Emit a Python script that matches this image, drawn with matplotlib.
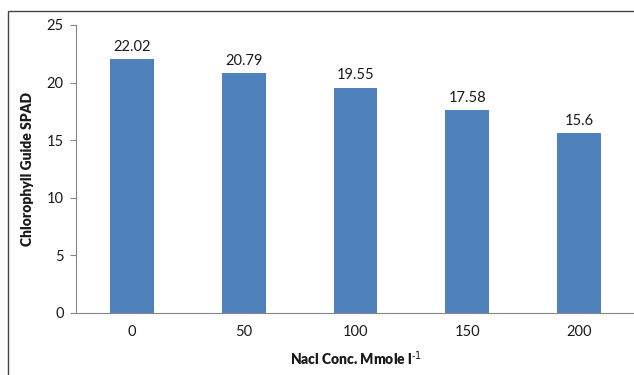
import numpy as np
import matplotlib.pyplot as plt
from matplotlib.patches import Rectangle

plt.rcParams['font.family'] = ['Lato', 'DejaVu Sans']

concentrations = ["0", "50", "100", "150", "200"]
spad_values = [22.02, 20.79, 19.55, 17.58, 15.6]
value_labels = ["22.02", "20.79", "19.55", "17.58", "15.6"]

BAR_COLOR = "#4F81BD"
AXIS_COLOR = "#868686"
TEXT_COLOR = "#1a1a1a"

fig = plt.figure(figsize=(6.34, 3.75), dpi=100)
ax = fig.add_axes([76 / 634, 1 - 313 / 375, (635 - 76) / 634, (313 - 25) / 375])

x = np.arange(len(concentrations))
bars = ax.bar(x, spad_values, width=0.39, color=BAR_COLOR, zorder=2)

for bar, lab in zip(bars, value_labels):
    ax.annotate(lab, xy=(bar.get_x() + bar.get_width() / 2, bar.get_height()),
                xytext=(0, 4), textcoords="offset points",
                ha="center", va="bottom", fontsize=10.5, color=TEXT_COLOR)

ax.set_xlim(-0.5, len(concentrations) - 0.5)
ax.set_ylim(0, 25)
ax.set_yticks(range(0, 26, 5))
ax.set_xticks(x)
ax.set_xticklabels(concentrations)

ax.spines["top"].set_visible(False)
ax.spines["right"].set_visible(False)
ax.spines["left"].set_color(AXIS_COLOR)
ax.spines["bottom"].set_color(AXIS_COLOR)
ax.tick_params(axis="y", length=4, color=AXIS_COLOR, labelsize=10.5, pad=5, labelcolor=TEXT_COLOR)
ax.tick_params(axis="x", length=0, labelsize=10.5, pad=9, labelcolor=TEXT_COLOR)

ax.set_ylabel("Chlorophyll Guide SPAD", fontsize=10, fontweight="heavy", labelpad=9, color=TEXT_COLOR)
ax.set_xlabel("Nacl Conc. Mmole l$^{\\text{-1}}$", fontsize=10, fontweight="heavy", labelpad=7, color=TEXT_COLOR)

# outer chart-area frame
fig.patches.append(Rectangle((8 / 634, -0.1), 1.1, 1 - 11 / 375 + 0.1,
                             transform=fig.transFigure, fill=False,
                             edgecolor="#444444", linewidth=1.0))

fig.savefig("out.png", dpi=100)
